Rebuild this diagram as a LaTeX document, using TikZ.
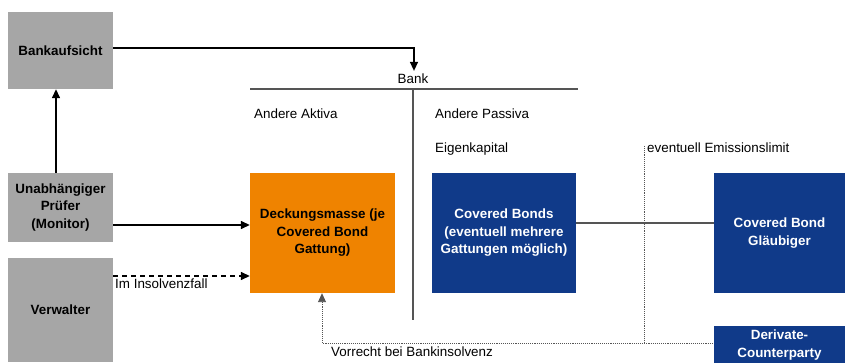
\documentclass[tikz,border=0pt]{standalone}
\usepackage{fontspec}
\setmainfont{Liberation Sans}
\usetikzlibrary{arrows.meta}
\definecolor{boxgray}{RGB}{166,166,166}
\definecolor{poolorange}{RGB}{239,131,0}
\definecolor{bondblue}{RGB}{16,58,137}
\definecolor{linegray}{RGB}{85,85,85}
\begin{document}
\begin{tikzpicture}[x=1pt,y=-1pt,
  font=\fontsize{13.4}{17.5}\selectfont,
  box/.style={inner sep=0pt, align=center, font=\fontsize{13.4}{17.5}\selectfont\bfseries},
  graybox/.style={box, fill=boxgray, text=black},
  orangebox/.style={box, fill=poolorange, text=black},
  bluebox/.style={box, fill=bondblue, text=white},
  label/.style={anchor=base west, inner sep=0pt},
  tip/.style={-{Triangle[length=9pt,width=8pt]}},
  arr/.style={line width=1.4pt, tip},
  dasharr/.style={arr, dash pattern=on 5pt off 4pt},
  tline/.style={line width=1.3pt, linegray},
  dotline/.style={line width=0.9pt, linegray, densely dotted}]
\useasboundingbox (0,0) rectangle (863,363);

% participants
\node[graybox, minimum width=105pt, minimum height=77pt] (aufsicht) at (60.5,50.5) {Bankaufsicht};
\node[graybox, minimum width=105pt, minimum height=69pt] (pruefer) at (60.5,207.5) {Unabhängiger\\Prüfer\\(Monitor)};
\node[graybox, minimum width=105pt, minimum height=104pt] (verwalter) at (60.5,310) {Verwalter};
\node[orangebox, minimum width=145pt, minimum height=120pt] (pool) at (322.5,233) {Deckungsmasse (je\\Covered Bond\\Gattung)};
\node[bluebox, minimum width=144pt, minimum height=120pt] (bonds) at (504,233) {Covered Bonds\\(eventuell mehrere\\Gattungen möglich)};
\node[bluebox, minimum width=131pt, minimum height=120pt] (glaeubiger) at (779.5,233) {Covered Bond\\Gläubiger};
\node[bluebox, minimum width=131pt, minimum height=38pt] (derivate) at (779.5,345) {Derivate-\\Counterparty};

% bank balance sheet
\node[inner sep=1pt] (bank) at (413,78.5) {Bank};
\coordinate (tl) at (250,89);
\coordinate (tr) at (578,89);
\coordinate (tm) at (413,89);
\coordinate (tb) at (413,320);
\draw[tline] (tl) -- (tr);
\draw[tline] (tm) -- (tb);
\node[label] at (254,119) {Andere Aktiva};
\node[label] at (435,119) {Andere Passiva};
\node[label] at (435,153) {Eigenkapital};
\node[label] (limit) at (647,153) {eventuell Emissionslimit};

% connectors
\draw[arr] ([yshift=2.5pt]aufsicht.east) -| ([xshift=1pt,yshift=1.5pt]bank.north);
\draw[arr] ([xshift=-4.5pt]pruefer.north) -- ([xshift=-4.5pt]aufsicht.south);
\draw[arr] ([yshift=-17.5pt]pruefer.east) -- ([yshift=-17.5pt]pruefer.east -| pool.west);
\draw[dasharr] ([yshift=34pt]verwalter.east) -- ([yshift=34pt]verwalter.east -| pool.west);
\node[label] at (115,289) {Im Insolvenzfall};
\draw[line width=1.3pt, linegray] ([yshift=10pt]bonds.east) -- ([yshift=10pt]bonds.east -| glaeubiger.west);

% priority claim
\coordinate (dtop) at (644,146);
\coordinate (dbot) at (644,343);
\coordinate (dright) at (713,343);
\coordinate (dleft) at (322,343);
\draw[dotline] (dtop) -- (dbot);
\draw[dotline, tip] (dright) -- (dleft) -- (dleft |- pool.south);
\node[label] at (331,357) {Vorrecht bei Bankinsolvenz};
\end{tikzpicture}
\end{document}
